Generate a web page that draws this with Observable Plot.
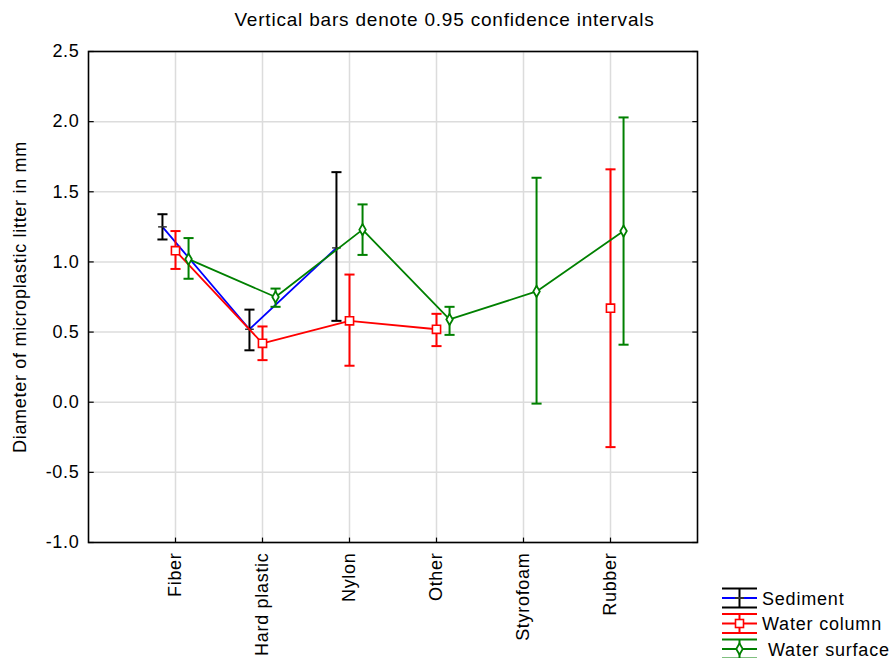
<!DOCTYPE html>
<html><head><meta charset="utf-8">
<script src="https://cdn.jsdelivr.net/npm/d3@7"></script>
<script src="https://cdn.jsdelivr.net/npm/@observablehq/plot@0.6"></script>
<style>
html,body{margin:0;padding:0;background:#fff;overflow:hidden;}
#wrap{position:relative;width:889px;height:658px;font-family:"Liberation Sans",Arial,sans-serif;}
#title{position:absolute;left:0;top:9px;width:889px;text-align:center;font-size:19px;letter-spacing:0.8px;color:#000;white-space:nowrap;}
#legend{position:absolute;left:722px;top:584px;}
</style></head>
<body><div id="wrap"><div id="chart"></div><div id="title">Vertical bars denote 0.95 confidence intervals</div><div id="legend"></div></div>
<script>
const categories = ["Fiber", "Hard plastic", "Nylon", "Other", "Styrofoam", "Rubber"];
const seriesNames = ["Sediment", "Water column", "Water surface"];
const yTicks = [-1.0, -0.5, 0.0, 0.5, 1.0, 1.5, 2.0, 2.5];

const sedimentMean = [1.25, 0.52, 1.10, null, null, null];
const sedimentLo   = [1.16, 0.37, 0.58, null, null, null];
const sedimentHi   = [1.34, 0.66, 1.64, null, null, null];

const columnMean = [1.08, 0.42, 0.58, 0.52, null, 0.67];
const columnLo   = [0.95, 0.30, 0.26, 0.40, null, -0.32];
const columnHi   = [1.22, 0.54, 0.91, 0.63, null, 1.66];

const surfaceMean = [1.02, 0.75, 1.23, 0.59, 0.79, 1.22];
const surfaceLo   = [0.88, 0.68, 1.05, 0.48, -0.01, 0.41];
const surfaceHi   = [1.17, 0.81, 1.41, 0.68, 1.60, 2.03];

const styles = [
  {name: seriesNames[0], mean: sedimentMean, lo: sedimentLo, hi: sedimentHi, line: "#0000ff", bar: "#000000", offset: -0.15, symbol: null},
  {name: seriesNames[1], mean: columnMean, lo: columnLo, hi: columnHi, line: "#ff0000", bar: "#ff0000", offset: 0, symbol: "square"},
  {name: seriesNames[2], mean: surfaceMean, lo: surfaceLo, hi: surfaceHi, line: "#008000", bar: "#008000", offset: 0.15, symbol: "diamond"}
];

const capW = 0.058;
const catIdx = d3.range(1, categories.length + 1);
const marks = [
  Plot.gridY(yTicks, {stroke: "#dcdcdc", strokeOpacity: 1, strokeWidth: 1.5}),
  Plot.gridX(catIdx, {stroke: "#dcdcdc", strokeOpacity: 1, strokeWidth: 1.5}),
];

for (const s of styles) {
  const rows = categories.map((c, i) => ({cat: c, x: i + 1 + s.offset, mean: s.mean[i], lo: s.lo[i], hi: s.hi[i]}));
  const def = rows.filter(d => d.mean != null);
  marks.push(Plot.line(rows, {x: "x", y: d => d.mean == null ? NaN : d.mean, stroke: s.line, strokeWidth: 1.8}));
  marks.push(Plot.ruleX(def, {x: "x", y1: "lo", y2: "hi", stroke: s.bar, strokeWidth: 2}));
  marks.push(Plot.link(def, {x1: d => d.x - capW, x2: d => d.x + capW, y1: "hi", y2: "hi", stroke: s.bar, strokeWidth: 2}));
  marks.push(Plot.link(def, {x1: d => d.x - capW, x2: d => d.x + capW, y1: "lo", y2: "lo", stroke: s.bar, strokeWidth: 2}));
  if (s.symbol === null) {
    marks.push(Plot.link(def, {x1: d => d.x - 0.05, x2: d => d.x + 0.05, y1: "mean", y2: "mean", stroke: "#333", strokeWidth: 1.5}));
  } else if (s.symbol === "square") {
    marks.push(Plot.dot(def, {x: "x", y: "mean", symbol: "square", r: 4.6, stroke: s.line, fill: "white", strokeWidth: 1.6}));
  } else {
    marks.push(Plot.dot(def, {x: "x", y: "mean", symbol: "diamond", r: 3.4, stroke: s.line, fill: "white", strokeWidth: 1.8}));
  }
}

// inward tick marks
marks.push(Plot.link(yTicks, {x1: 0, x2: 0.06, y1: d => d, y2: d => d, stroke: "black", strokeWidth: 1.2}));
marks.push(Plot.link(yTicks, {x1: 7 - 0.06, x2: 7, y1: d => d, y2: d => d, stroke: "black", strokeWidth: 1.2}));
marks.push(Plot.link(catIdx, {x1: d => d, x2: d => d, y1: -1, y2: -0.965, stroke: "black", strokeWidth: 1.2}));

marks.push(Plot.axisY(yTicks, {tickSize: 0, tickPadding: 9, tickFormat: d => d.toFixed(1), fontSize: 18,
  label: "Diameter of microplastic litter in mm", labelAnchor: "center", labelOffset: 75, labelArrow: "none"}));
marks.push(Plot.axisX(catIdx, {tickSize: 0, tickPadding: 10, tickRotate: -90,
  tickFormat: d => categories[d - 1], fontSize: 18, label: null}));
marks.push(Plot.frame({stroke: "black", strokeWidth: 1.6}));

const chart = Plot.plot({
  width: 889, height: 658,
  marginLeft: 88, marginRight: 192, marginTop: 51, marginBottom: 116,
  x: {domain: [0, 7], axis: null},
  y: {domain: [-1, 2.5], axis: null},
  style: {fontFamily: "'Liberation Sans', Arial, sans-serif", fontSize: "18px", letterSpacing: "0.7px", background: "white", color: "black"},
  marks
});
document.getElementById("chart").appendChild(chart);

// legend
const lg = d3.select("#legend").append("svg").attr("width", 167).attr("height", 74)
  .style("font-family", "'Liberation Sans', Arial, sans-serif");
styles.forEach((s, i) => {
  const cy = 14 + i * 25.5;
  const g = lg.append("g").attr("transform", `translate(0,${cy})`);
  g.append("line").attr("x1", 0).attr("x2", 35).attr("y1", -9.5).attr("y2", -9.5).attr("stroke", s.bar).attr("stroke-width", 2);
  g.append("line").attr("x1", 0).attr("x2", 35).attr("y1", 9.5).attr("y2", 9.5).attr("stroke", s.bar).attr("stroke-width", 2);
  g.append("line").attr("x1", 0).attr("x2", 35).attr("y1", 0).attr("y2", 0).attr("stroke", s.line).attr("stroke-width", 2);
  g.append("line").attr("x1", 17.5).attr("x2", 17.5).attr("y1", -9.5).attr("y2", 9.5).attr("stroke", s.bar).attr("stroke-width", 2);
  if (s.symbol === null) {
    g.append("line").attr("x1", 13).attr("x2", 22).attr("y1", 0).attr("y2", 0).attr("stroke", "#333").attr("stroke-width", 2);
  } else if (s.symbol === "square") {
    g.append("rect").attr("x", 13.5).attr("y", -4).attr("width", 8).attr("height", 8).attr("fill", "white").attr("stroke", s.line).attr("stroke-width", 1.6);
  } else {
    g.append("path").attr("d", d3.symbol(d3.symbolDiamond, 36)()).attr("transform", "translate(17.5,0)").attr("fill", "white").attr("stroke", s.line).attr("stroke-width", 1.8);
  }
  g.append("text").attr("x", i === 2 ? 46 : 40).attr("y", 6.5).attr("font-size", 18).attr("letter-spacing", "0.8px").attr("fill", "black").text(s.name);
});
</script></body></html>
